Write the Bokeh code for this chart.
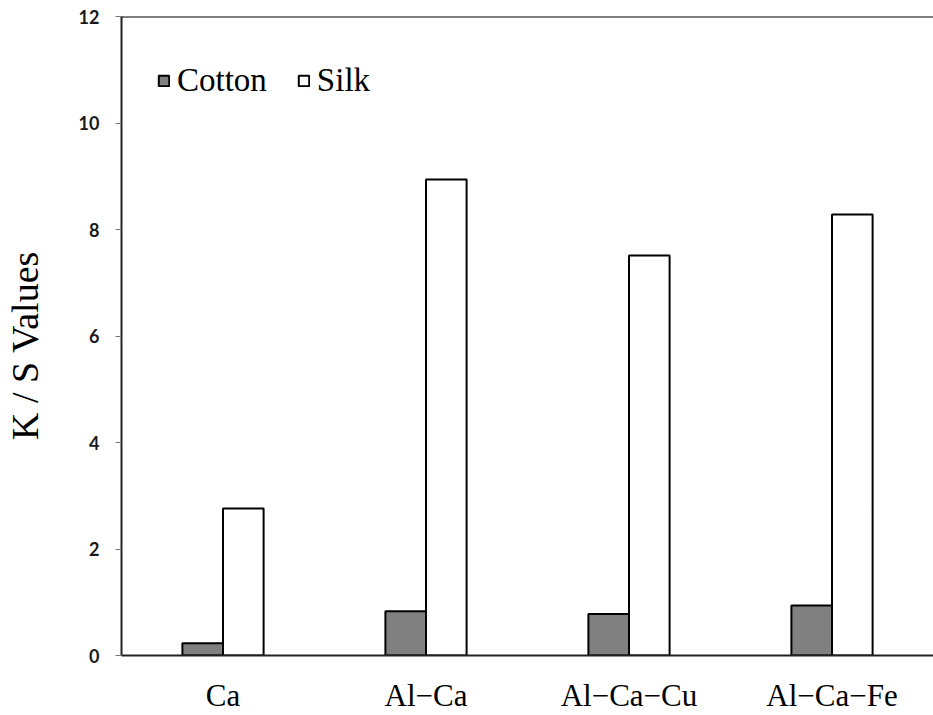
from bokeh.plotting import figure
from bokeh.models import ColumnDataSource, FixedTicker, Span, Legend, LegendItem
from bokeh.transform import dodge
from bokeh.embed import file_html
from bokeh.resources import INLINE

# K/S values of cotton and silk dyed with different mordants
mordants = ["Ca", "Al\u2212Ca", "Al\u2212Ca\u2212Cu", "Al\u2212Ca\u2212Fe"]
cotton = [0.23, 0.83, 0.78, 0.94]
silk = [2.76, 8.94, 7.51, 8.28]
y_ticks = [0, 2, 4, 6, 8, 10, 12]

source = ColumnDataSource(data=dict(mordant=mordants, cotton=cotton, silk=silk))

SERIF = "'Liberation Serif', 'DejaVu Serif', serif"

p = figure(
    x_range=mordants, y_range=(0, 12),
    width=933, height=715,
    output_backend="svg", toolbar_location=None,
    min_border_left=120, min_border_right=0, min_border_top=16, min_border_bottom=60,
)
p.background_fill_color = "white"
p.border_fill_color = "white"
p.outline_line_color = None
p.xgrid.grid_line_color = None
p.ygrid.grid_line_color = None

r_cotton = p.vbar(x=dodge("mordant", -0.1, range=p.x_range), top="cotton", width=0.2,
                  source=source, fill_color="#808080", line_color="black", line_width=2)
r_silk = p.vbar(x=dodge("mordant", 0.1, range=p.x_range), top="silk", width=0.2,
                source=source, fill_color="white", line_color="black", line_width=2)

# frame top edge
p.add_layout(Span(location=12, dimension="width", line_color="black", line_width=2))

# y axis
yax = p.yaxis[0]
yax.ticker = FixedTicker(ticks=y_ticks)
yax.axis_label = "K / S Values\u00a0\u00a0"
yax.axis_label_text_font = SERIF
yax.axis_label_text_font_size = "38px"
yax.axis_label_text_font_style = "normal"
yax.axis_label_text_color = "black"
yax.axis_label_standoff = 30
yax.major_label_text_font = "Lato"
yax.major_label_text_font_style = "bold"
yax.major_label_text_font_size = "18px"
yax.major_label_text_color = "#1a1a1a"
yax.major_label_standoff = 16
yax.major_tick_in = 0
yax.major_tick_out = 6
yax.major_tick_line_color = "#777777"
yax.minor_tick_line_color = None
yax.axis_line_color = "#222222"
yax.axis_line_width = 2

# x axis
xax = p.xaxis[0]
xax.major_label_text_font = SERIF
xax.major_label_text_font_size = "31px"
xax.major_label_text_color = "black"
xax.major_label_standoff = 16
xax.major_tick_line_color = None
xax.minor_tick_line_color = None
xax.axis_line_color = "#222222"
xax.axis_line_width = 2

legend = Legend(
    items=[LegendItem(label="Cotton", renderers=[r_cotton]),
           LegendItem(label="Silk", renderers=[r_silk])],
    orientation="horizontal",
    location=(36, 556),
    margin=0, padding=0, spacing=30,
    glyph_width=13, glyph_height=13, label_standoff=7,
    label_text_font=SERIF, label_text_font_size="33px", label_text_color="black",
    background_fill_alpha=0, border_line_color=None,
)
p.add_layout(legend)

open("out.html", "w").write(file_html(p, INLINE))
